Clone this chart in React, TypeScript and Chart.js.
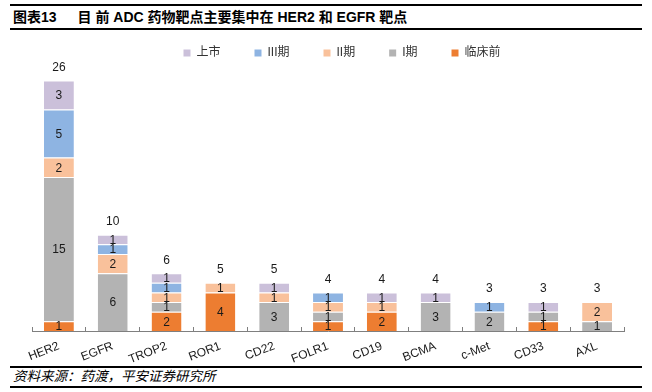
import React, { useEffect, useRef } from "react";
import { Chart, registerables } from "chart.js";

Chart.register(...registerables);

const categories = ["HER2", "EGFR", "TROP2", "ROR1", "CD22", "FOLR1", "CD19", "BCMA", "c-Met", "CD33", "AXL"];
const preclinical = [1, 0, 2, 4, 0, 1, 2, 0, 0, 1, 0];
const phase1 = [15, 6, 1, 0, 3, 1, 0, 3, 2, 1, 1];
const phase2 = [2, 2, 1, 1, 1, 1, 1, 0, 0, 0, 2];
const phase3 = [5, 1, 1, 0, 0, 1, 0, 0, 1, 0, 0];
const marketed = [3, 1, 1, 0, 1, 0, 1, 1, 0, 1, 0];
const seriesNames = ["临床前", "I期", "II期", "III期", "上市"];
const seriesColors = ["#ED7D31", "#B3B3B3", "#F9C19B", "#8EB4E2", "#CBC0DA"];

const FONT = '"Liberation Sans", Arial, "Noto Sans CJK SC", sans-serif';

const labelPlugin = {
  id: "stackLabels",
  afterDatasetsDraw(chart: any) {
    const ctx = chart.ctx;
    ctx.save();
    ctx.font = `12px ${FONT}`;
    ctx.fillStyle = "#1a1a1a";
    ctx.textAlign = "center";
    ctx.textBaseline = "middle";
    const n = chart.data.labels.length;
    const totals = new Array(n).fill(0);
    chart.data.datasets.forEach((ds: any, i: number) => {
      const meta = chart.getDatasetMeta(i);
      meta.data.forEach((el: any, j: number) => {
        const v = ds.data[j];
        totals[j] += v;
        if (v > 0) {
          ctx.fillText(String(v), el.x, (el.y + el.base) / 2 + 1);
        }
      });
    });
    const yScale = chart.scales.y;
    const meta0 = chart.getDatasetMeta(0);
    totals.forEach((t: number, j: number) => {
      const x = meta0.data[j].x;
      ctx.fillText(String(t), x, yScale.getPixelForValue(t) - 13);
    });
    ctx.restore();
  },
};

export default function App() {
  const ref = useRef<HTMLCanvasElement | null>(null);
  useEffect(() => {
    if (!ref.current) return;
    const data = [preclinical, phase1, phase2, phase3, marketed];
    const chart = new Chart(ref.current, {
      type: "bar",
      data: {
        labels: categories,
        datasets: data.map((d, i) => ({
          label: seriesNames[i],
          data: d,
          backgroundColor: seriesColors[i],
          borderColor: "rgba(255,255,255,0.7)",
          borderWidth: { top: 1, bottom: 0, left: 0, right: 0 },
          borderSkipped: false,
          categoryPercentage: 1,
          barPercentage: 0.556,
        })),
      },
      options: {
        responsive: false,
        animation: false,
        devicePixelRatio: 1,
        layout: { padding: { left: 32, right: 0, top: 0, bottom: 0 } },
        plugins: {
          tooltip: { enabled: false },
          legend: {
            position: "top",
            labels: {
              boxWidth: 7,
              boxHeight: 7,
              padding: 34,
              color: "#333",
              font: { size: 12, family: FONT },
              generateLabels: (c: any) =>
                c.data.datasets
                  .map((ds: any, i: number) => ({
                    text: ds.label,
                    fillStyle: ds.backgroundColor,
                    strokeStyle: ds.backgroundColor,
                    lineWidth: 0,
                    hidden: false,
                    datasetIndex: i,
                    fontColor: "#333",
                  }))
                  .reverse(),
            },
          },
        },
        scales: {
          x: {
            stacked: true,
            grid: { display: true, drawOnChartArea: false, drawTicks: true, tickLength: -4, color: "#7f7f7f", offset: true },
            border: { display: true, color: "#7f7f7f", width: 1 },
            ticks: {
              autoSkip: false,
              minRotation: 21,
              maxRotation: 21,
              padding: 12,
              color: "#1a1a1a",
              font: { size: 12, family: FONT },
            },
            afterFit: (s: any) => {
              s.height = 32;
            },
          },
          y: {
            stacked: true,
            position: "right",
            min: 0,
            max: 27.2,
            display: true,
            grid: { display: false },
            border: { display: false },
            ticks: { display: false },
            afterFit: (s: any) => {
              s.width = 28;
            },
          },
        },
      },
      plugins: [labelPlugin],
    });
    return () => chart.destroy();
  }, []);

  const line = (top: number): React.CSSProperties => ({
    position: "absolute",
    left: 10,
    width: 632,
    top,
    height: 2,
    background: "#000",
  });

  return (
    <div style={{ position: "absolute", left: 0, top: 0, width: 652, height: 392, background: "#fff", overflow: "hidden", fontFamily: FONT }}>
      <div style={line(4)} />
      <div
        style={{
          position: "absolute",
          left: 13,
          top: 8,
          fontSize: 14,
          fontWeight: "bold",
          lineHeight: "18px",
          whiteSpace: "nowrap",
          color: "#000",
        }}
      >
        <span>图表13</span>
        <span style={{ marginLeft: 21 }}>目 前 ADC 药物靶点主要集中在 HER2 和 EGFR 靶点</span>
      </div>
      <div style={line(28)} />
      <canvas ref={ref} width={652} height={350} style={{ position: "absolute", left: 0, top: 13, width: 652, height: 350 }} />
      <div style={line(366)} />
      <div
        style={{
          position: "absolute",
          left: 13,
          top: 369,
          fontSize: 13.5,
          fontStyle: "italic",
          lineHeight: "16px",
          whiteSpace: "nowrap",
          color: "#000",
        }}
      >
        资料来源：药渡，平安证券研究所
      </div>
      <div style={line(386)} />
    </div>
  );
}
